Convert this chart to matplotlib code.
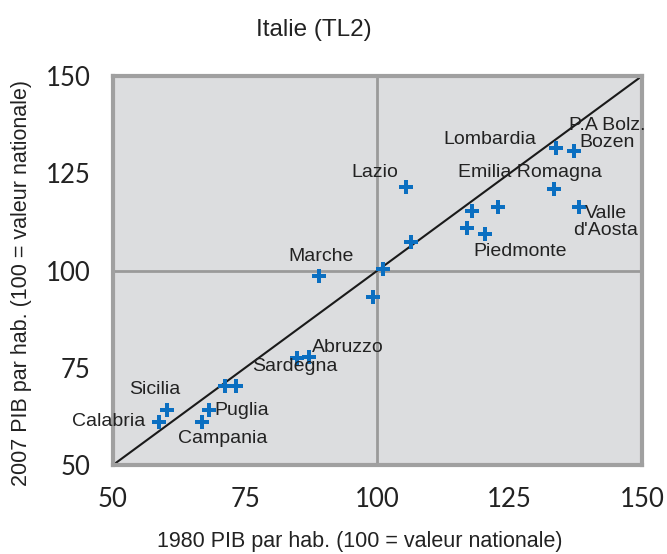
import matplotlib.pyplot as plt

# 1980 vs 2007 GDP per head, Italian TL2 regions (national = 100)
x1980 = [105.4, 133.7, 137.1, 133.4, 138.1, 122.8, 117.9, 116.9, 120.3, 106.3,
         101.0, 88.9, 99.1, 87.1, 84.8, 73.3, 71.2, 60.2, 58.7, 68.1, 66.8]
y2007 = [121.5, 131.5, 130.7, 121.0, 116.3, 116.3, 115.3, 110.9, 109.4, 107.3,
         100.3, 98.6, 93.2, 77.8, 77.5, 70.3, 70.3, 64.1, 61.1, 64.1, 61.1]

labels = ["Lazio", "Lombardia", "P.A Bolz.\nBozen", "Emilia Romagna",
          "Valle\nd'Aosta", "Piedmonte", "Marche", "Abruzzo", "Sardegna",
          "Sicilia", "Calabria", "Puglia", "Campania"]
label_x = [99.5, 121.3, 143.4, 128.8, 143.2, 126.9, 89.3, 94.4, 84.4,
           57.8, 49.2, 74.4, 70.8]
label_y = [125.1, 133.8, 135.1, 125.1, 112.5, 104.8, 103.5, 80.1, 75.4,
           69.3, 61.1, 64.1, 56.9]

ticks = [50, 75, 100, 125, 150]

fig = plt.figure(figsize=(6.67, 5.54), dpi=100)
ax = fig.add_axes([0.1694, 0.1606, 0.7931, 0.7022])
ax.set_facecolor("#dcdddf")

ax.axvline(100, color="#9a9a9a", lw=2, zorder=1)
ax.axhline(100, color="#9a9a9a", lw=2, zorder=1)
ax.plot([50, 150], [50, 150], color="#1a1a1a", lw=1.5, zorder=2)
ax.plot(x1980, y2007, "P", color="#0b6fc1", ms=10, mew=0, ls="none", zorder=3)

for t, lx, ly in zip(labels, label_x, label_y):
    ax.text(lx, ly, t, ha="center", va="center", fontsize=14,
            family="Liberation Sans", color="#222222", zorder=4,
            linespacing=1.05)

ax.set_xlim(50, 150)
ax.set_ylim(50, 150)
ax.set_xticks(ticks)
ax.set_yticks(ticks)
ax.tick_params(length=0, labelsize=18.5, pad=16)
for lab in ax.get_xticklabels() + ax.get_yticklabels():
    lab.set_family("Lato")
    lab.set_color("#222222")
for s in ax.spines.values():
    s.set_color("#a0a0a0")
    s.set_linewidth(3)

fig.text(314 / 667, 1 - 30 / 554, "Italie (TL2)", ha="center", va="center",
         fontsize=17.5, family="Liberation Sans", color="#222222")
fig.text(360 / 667, 1 - 541 / 554, "1980 PIB par hab. (100 = valeur nationale)",
         ha="center", va="center", fontsize=15.5, family="Liberation Sans",
         color="#222222")
fig.text(22 / 667, 1 - 283 / 554, "2007 PIB par hab. (100 = valeur nationale)",
         ha="center", va="center", rotation=90, fontsize=15.5,
         family="Liberation Sans", color="#222222")

fig.savefig("out.png", dpi=100)
